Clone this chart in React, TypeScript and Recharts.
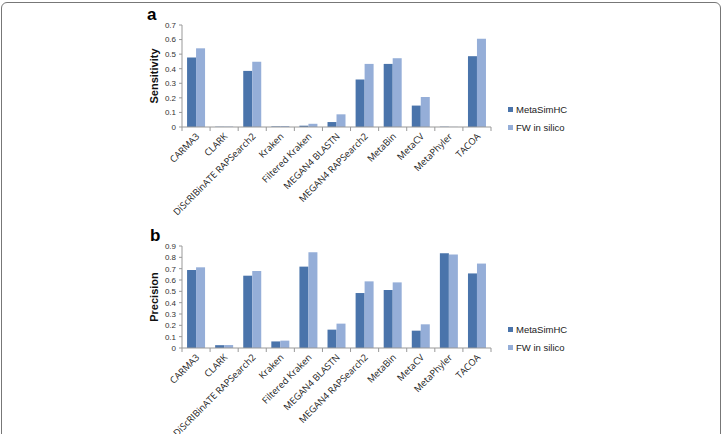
import { BarChart, Bar, XAxis, YAxis, Legend, Label } from "recharts";

const categories = [
    "CARMA3",
    "CLARK",
    "DiScRIBinATE RAPSearch2",
    "Kraken",
    "Filtered Kraken",
    "MEGAN4 BLASTN",
    "MEGAN4 RAPSearch2",
    "MetaBin",
    "MetaCV",
    "MetaPhyler",
    "TACOA"
];

const seriesNames = ["MetaSimHC", "FW in silico"];

const sensitivityMetaSimHC = [0.477, 0.002, 0.385, 0.004, 0.009, 0.034, 0.326, 0.433, 0.147, 0.002, 0.486];
const sensitivityFW = [0.54, 0.003, 0.447, 0.007, 0.022, 0.087, 0.433, 0.472, 0.206, 0.001, 0.605];

const precisionMetaSimHC = [0.688, 0.025, 0.638, 0.058, 0.718, 0.162, 0.485, 0.512, 0.153, 0.835, 0.658];
const precisionFW = [0.712, 0.026, 0.679, 0.065, 0.844, 0.215, 0.588, 0.579, 0.209, 0.824, 0.745];

const sensitivityTicks = [0, 0.1, 0.2, 0.3, 0.4, 0.5, 0.6, 0.7];
const precisionTicks = [0, 0.1, 0.2, 0.3, 0.4, 0.5, 0.6, 0.7, 0.8, 0.9];

const DARK = "#4a74ab";
const LIGHT = "#95aed8";

const PLOT_LEFT = 182;
const PLOT_RIGHT = 491;
const STEP = (PLOT_RIGHT - PLOT_LEFT) / categories.length;

function buildRows(a: number[], b: number[]) {
    return categories.map((name, i) => ({ name, meta: a[i], fw: b[i] }));
}

function CategoryTick(props: any) {
    const { x, y, payload, index } = props;
    const last = index === categories.length - 1;
    return (
        <g>
            <line x1={x - STEP / 2} y1={y} x2={x - STEP / 2} y2={y + 4} stroke="#999" />
            {last && <line x1={x + STEP / 2} y1={y} x2={x + STEP / 2} y2={y + 4} stroke="#999" />}
            <text
                x={x + 4}
                y={y + 10}
                transform={`rotate(-45 ${x + 4} ${y + 10})`}
                textAnchor="end"
                fontSize={9.3}
                fontFamily="'Open Sans', sans-serif"
                fill="#1a1a1a"
            >
                {payload.value}
            </text>
        </g>
    );
}

function AxisTitle(props: any) {
    const { viewBox, value } = props;
    const cx = viewBox.x + viewBox.width - 28;
    const cy = viewBox.y + viewBox.height / 2;
    return (
        <text
            x={cx}
            y={cy}
            transform={`rotate(-90 ${cx} ${cy})`}
            textAnchor="middle"
            dominantBaseline="central"
            fontSize={11}
            fontWeight="bold"
            fontFamily="'Liberation Sans', Arial, sans-serif"
            fill="#111"
        >
            {value}
        </text>
    );
}

function LegendBox(props: any) {
    const items = [...(props.payload || [])].sort(
        (p: any, q: any) => seriesNames.indexOf(p.value) - seriesNames.indexOf(q.value)
    );
    return (
        <div style={{ fontFamily: "'Liberation Sans', Arial, sans-serif", fontSize: 9.5, color: "#222" }}>
            {items.map((item: any) => (
                <div key={item.value} style={{ display: "flex", alignItems: "center", height: 17.5 }}>
                    <span style={{ width: 5, height: 5, background: item.color, marginRight: 3 }} />
                    {item.value}
                </div>
            ))}
        </div>
    );
}

function Panel(props: {
    top: number;
    rows: any[];
    ticks: number[];
    max: number;
    title: string;
    marginTop: number;
    axisHeight: number;
    legendTop: number;
}) {
    const { top, rows, ticks, max, title, marginTop, axisHeight, legendTop } = props;
    return (
        <div style={{ position: "absolute", left: 0, top }}>
            <BarChart
                width={724}
                height={217}
                data={rows}
                margin={{ top: marginTop, right: 724 - PLOT_RIGHT, left: 0, bottom: 0 }}
                barGap={0}
                barCategoryGap="18%"
            >
                <XAxis
                    dataKey="name"
                    interval={0}
                    height={axisHeight}
                    stroke="#999"
                    tickLine={false}
                    tickSize={0}
                    tickMargin={0}
                    tick={<CategoryTick />}
                />
                <YAxis
                    width={PLOT_LEFT}
                    domain={[0, max]}
                    ticks={ticks}
                    interval={0}
                    stroke="#999"
                    tickSize={3}
                    tickMargin={3}
                    tick={{ fontSize: 8, fill: "#333", fontFamily: "'Liberation Sans', Arial, sans-serif" }}
                >
                    <Label value={title} content={<AxisTitle value={title} />} />
                </YAxis>
                <Legend
                    layout="vertical"
                    align="center"
                    verticalAlign="middle"
                    content={<LegendBox />}
                    wrapperStyle={{ position: "absolute", left: 508, top: legendTop, width: 120 }}
                />
                <Bar dataKey="meta" name={seriesNames[0]} fill={DARK} isAnimationActive={false} />
                <Bar dataKey="fw" name={seriesNames[1]} fill={LIGHT} isAnimationActive={false} />
            </BarChart>
        </div>
    );
}

export default function App() {
    return (
        <div
            style={{
                position: "absolute",
                left: 0,
                top: 0,
                width: 724,
                height: 434,
                overflow: "hidden",
                background: "#fff"
            }}
        >
            <div
                style={{
                    position: "absolute",
                    left: 1,
                    top: 2,
                    width: 718,
                    height: 460,
                    border: "1.5px solid #777",
                    borderRadius: 6
                }}
            />
            <Panel
                top={0}
                rows={buildRows(sensitivityMetaSimHC, sensitivityFW)}
                ticks={sensitivityTicks}
                max={0.7}
                title="Sensitivity"
                marginTop={25}
                axisHeight={90}
                legendTop={101}
            />
            <Panel
                top={217}
                rows={buildRows(precisionMetaSimHC, precisionFW)}
                ticks={precisionTicks}
                max={0.9}
                title="Precision"
                marginTop={29}
                axisHeight={86}
                legendTop={104}
            />
            <span
                style={{
                    position: "absolute",
                    left: 147,
                    top: 5,
                    fontFamily: "'Liberation Sans', Arial, sans-serif",
                    fontWeight: "bold",
                    fontSize: 17
                }}
            >
                a
            </span>
            <span
                style={{
                    position: "absolute",
                    left: 150,
                    top: 226,
                    fontFamily: "'Liberation Sans', Arial, sans-serif",
                    fontWeight: "bold",
                    fontSize: 17
                }}
            >
                b
            </span>
        </div>
    );
}
